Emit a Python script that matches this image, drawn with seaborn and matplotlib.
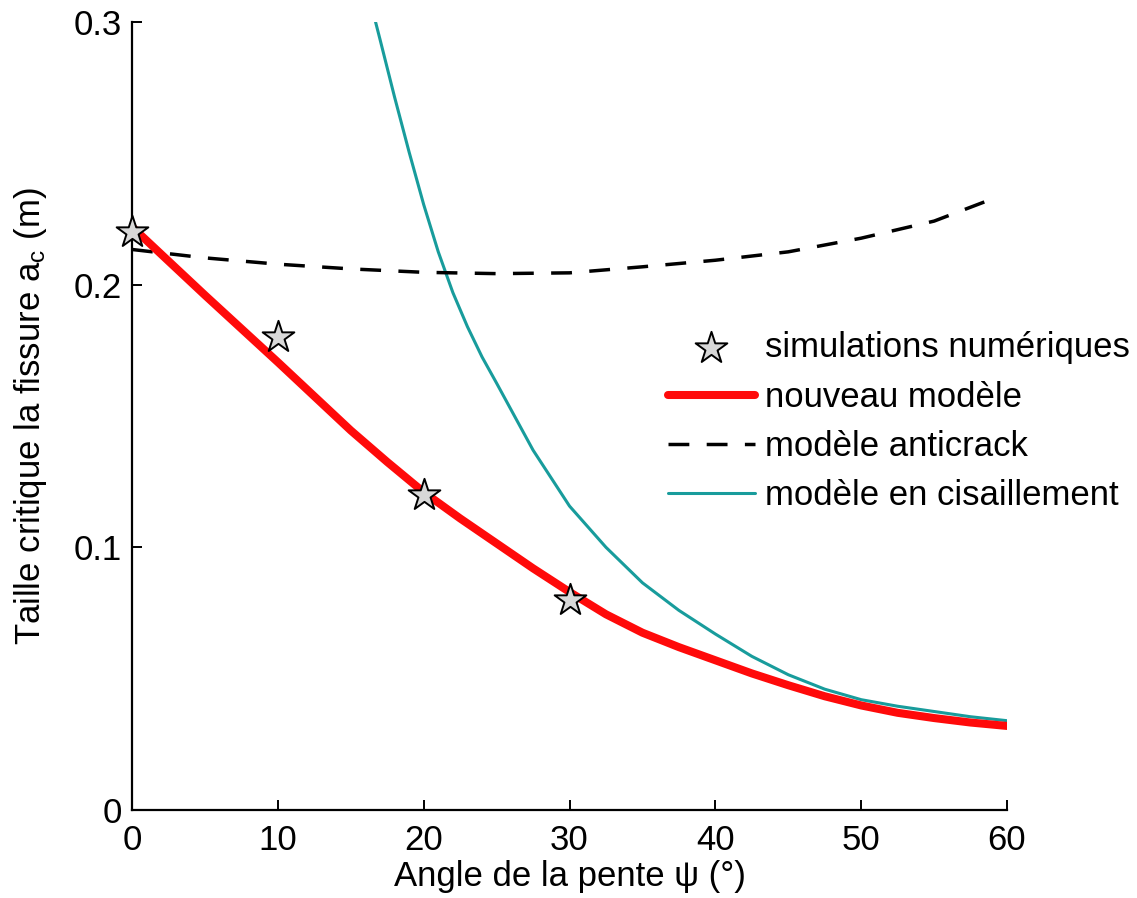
import matplotlib
matplotlib.use('Agg')
import matplotlib.pyplot as plt
import pandas as pd
import seaborn as sns

# Valeurs
sim_angle = [0, 10, 20, 30]
sim_taille = [0.22, 0.18, 0.12, 0.08]

nouveau_angle = [0, 5, 10, 15, 17.5, 20, 22.5, 25, 27.5, 30, 32.5, 35, 37.5, 40, 42.5, 45,
                 47.5, 50, 52.5, 55, 57.5, 60]
nouveau_taille = [0.222, 0.196, 0.1705, 0.1445, 0.1325, 0.121, 0.111, 0.1015, 0.092, 0.083,
                  0.0745, 0.0675, 0.062, 0.057, 0.052, 0.0475, 0.0433, 0.0398, 0.037,
                  0.035, 0.0333, 0.032]

anticrack_angle = [0, 5, 10, 15, 20, 25, 30, 35, 40, 45, 50, 55, 59.3]
anticrack_taille = [0.2134, 0.2102, 0.2078, 0.2060, 0.2047, 0.2042, 0.2045, 0.2068, 0.2093,
                    0.2125, 0.2177, 0.2242, 0.2333]

cisail_angle = [16.7, 17, 18, 19, 20, 21, 22, 23, 24, 25, 27.5, 30, 32.5, 35, 37.5, 40,
                42.5, 45, 47.5, 50, 52.5, 55, 57.5, 60]
cisail_taille = [0.300, 0.2935, 0.2715, 0.2505, 0.2305, 0.2125, 0.197, 0.184, 0.1725, 0.1625,
                 0.137, 0.1157, 0.100, 0.0865, 0.076, 0.067, 0.0585, 0.0515, 0.046, 0.042,
                 0.0395, 0.0375, 0.0355, 0.034]

xticks = [0, 10, 20, 30, 40, 50, 60]
yticks = [0, 0.1, 0.2, 0.3]
yticklabels = ['0', '0.1', '0.2', '0.3']

sns.set_style('ticks')
plt.rcParams['font.family'] = ['Liberation Sans', 'DejaVu Sans']
plt.rcParams['mathtext.fontset'] = 'custom'
plt.rcParams['mathtext.rm'] = 'Liberation Sans'
plt.rcParams['mathtext.it'] = 'Liberation Sans'
plt.rcParams['text.color'] = 'black'
plt.rcParams['axes.labelcolor'] = 'black'

fs = 25

fig = plt.figure(figsize=(11.37, 8.98), dpi=100)
ax = fig.add_axes([0.1161, 0.098, 0.7696, 0.8775])

df_sim = pd.DataFrame({'angle': sim_angle, 'taille': sim_taille})
df_nouv = pd.DataFrame({'angle': nouveau_angle, 'taille': nouveau_taille})
df_anti = pd.DataFrame({'angle': anticrack_angle, 'taille': anticrack_taille})
df_cis = pd.DataFrame({'angle': cisail_angle, 'taille': cisail_taille})

sns.lineplot(data=df_cis, x='angle', y='taille', ax=ax, color='#189c9c', lw=2.2,
             label='modèle en cisaillement', sort=False)
sns.lineplot(data=df_anti, x='angle', y='taille', ax=ax, color='black', lw=2.5,
             label='modèle anticrack', sort=False)
ax.lines[-1].set_dashes((6, 5))
sns.lineplot(data=df_nouv, x='angle', y='taille', ax=ax, color='#ff0a0a', lw=5.8,
             label='nouveau modèle', sort=False)
sns.scatterplot(data=df_sim, x='angle', y='taille', ax=ax, marker='*', s=24**2,
                color='#d8d8d8', edgecolor='black', linewidth=1.4,
                label='simulations numériques', zorder=5, clip_on=False)

ax.set_xlim(0, 60)
ax.set_ylim(0, 0.3)
ax.set_xticks(xticks)
ax.set_yticks(yticks)
ax.set_yticklabels(yticklabels)
ax.tick_params(direction='in', length=7, width=1.4, labelsize=fs, colors='black')
ax.tick_params(axis='x', pad=10)
ax.tick_params(axis='y', pad=7)
for s in ['left', 'bottom']:
    ax.spines[s].set_linewidth(1.6)
    ax.spines[s].set_color('black')
sns.despine(ax=ax)

ax.set_xlabel('Angle de la pente ψ (°)', fontsize=fs, labelpad=2)
ax.set_ylabel('Taille critique la fissure a$_\\mathrm{c}$ (m)', fontsize=fs, labelpad=18)

handles, labels = ax.get_legend_handles_labels()
order = [labels.index(l) for l in ['simulations numériques', 'nouveau modèle',
                                    'modèle anticrack', 'modèle en cisaillement']]
leg = ax.legend([handles[i] for i in order], [labels[i] for i in order],
                loc='upper left', bbox_to_anchor=(0.5875, 0.631),
                bbox_transform=fig.transFigure, frameon=False, fontsize=fs,
                handlelength=2.5, handletextpad=0.29, labelspacing=0.47,
                borderpad=0, borderaxespad=0)

fig.savefig('out.png', dpi=100)
